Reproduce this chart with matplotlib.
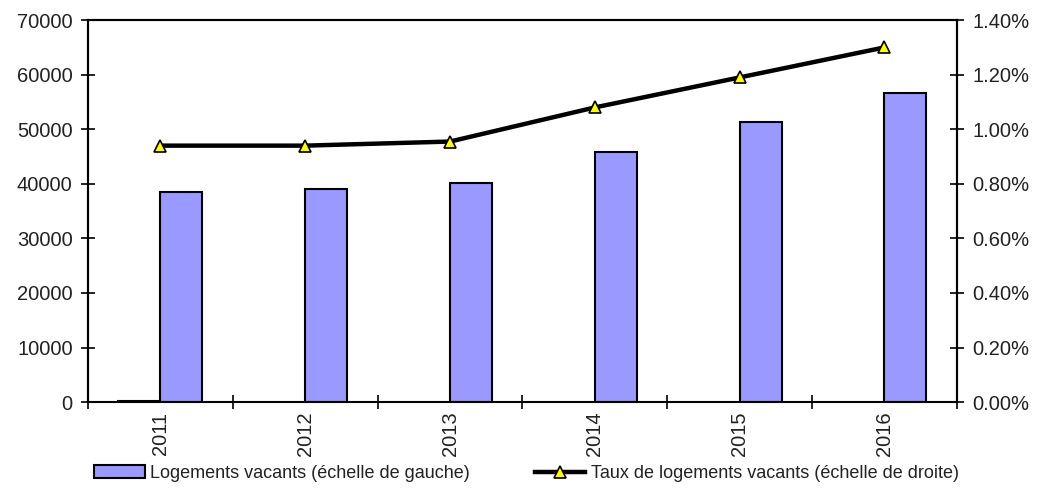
import numpy as np
import matplotlib.pyplot as plt
from matplotlib.ticker import FuncFormatter, FixedLocator

plt.rcParams['font.family'] = ['Liberation Sans', 'DejaVu Sans']

# -- DATA --
annees = ['2011', '2012', '2013', '2014', '2015', '2016']
logements_vacants = [38500, 39000, 40100, 45800, 51300, 56600]
taux_vacants = [0.94, 0.94, 0.955, 1.08, 1.19, 1.30]  # en %
serie_vide = [120, np.nan, np.nan, np.nan, np.nan, np.nan]

fig = plt.figure(figsize=(10.38, 4.91), dpi=100)
ax = fig.add_axes([0.0848, 0.181, 0.837, 0.778])
ax2 = ax.twinx()

x = np.arange(len(annees))
w = 0.29
ax.bar(x - w / 2, serie_vide, w, color='#9999ff', edgecolor='black', linewidth=1.5)
barres = ax.bar(x + w / 2, logements_vacants, w, color='#9999ff', edgecolor='black',
                linewidth=1.5, label='Logements vacants (échelle de gauche)')
ligne, = ax2.plot(x, taux_vacants, color='black', lw=3.2, marker='^', ms=9,
                  mfc='#ffff00', mec='black', mew=1.2,
                  label='Taux de logements vacants (échelle de droite)')

ax.set_xlim(-0.5, len(annees) - 0.5)
ax.set_ylim(0, 70000)
ax.set_yticks(range(0, 70001, 10000))
ax2.set_ylim(0, 1.4)
ax2.set_yticks(np.arange(0, 1.41, 0.2))
ax2.yaxis.set_major_formatter(FuncFormatter(lambda v, p: '%.2f%%' % v))

ax.set_xticks(x)
ax.set_xticklabels(annees, rotation=90)
ax.xaxis.set_minor_locator(FixedLocator(np.arange(-0.5, len(annees), 1.0)))
ax.tick_params(axis='x', which='major', length=0, pad=7)
ax.tick_params(axis='x', which='minor', direction='inout', length=10, width=1.2)
ax.tick_params(axis='y', direction='inout', length=10, width=1.2, pad=6)
ax2.tick_params(axis='y', direction='inout', length=10, width=1.2, pad=6)
for a in (ax, ax2):
    a.tick_params(labelsize=14.5, labelcolor='#222222')
    for s in a.spines.values():
        s.set_linewidth(1.5)
ax.spines['bottom'].set_linewidth(1.2)

fig.legend([barres, ligne],
           ['Logements vacants (échelle de gauche)',
            'Taux de logements vacants (échelle de droite)'],
           loc='lower left', bbox_to_anchor=(0.075, -0.015), ncol=2, frameon=False,
           fontsize=13, columnspacing=3.6, handlelength=2.8, handletextpad=0.3,
           labelcolor='#222222')

plt.savefig('out.png', dpi=100)
